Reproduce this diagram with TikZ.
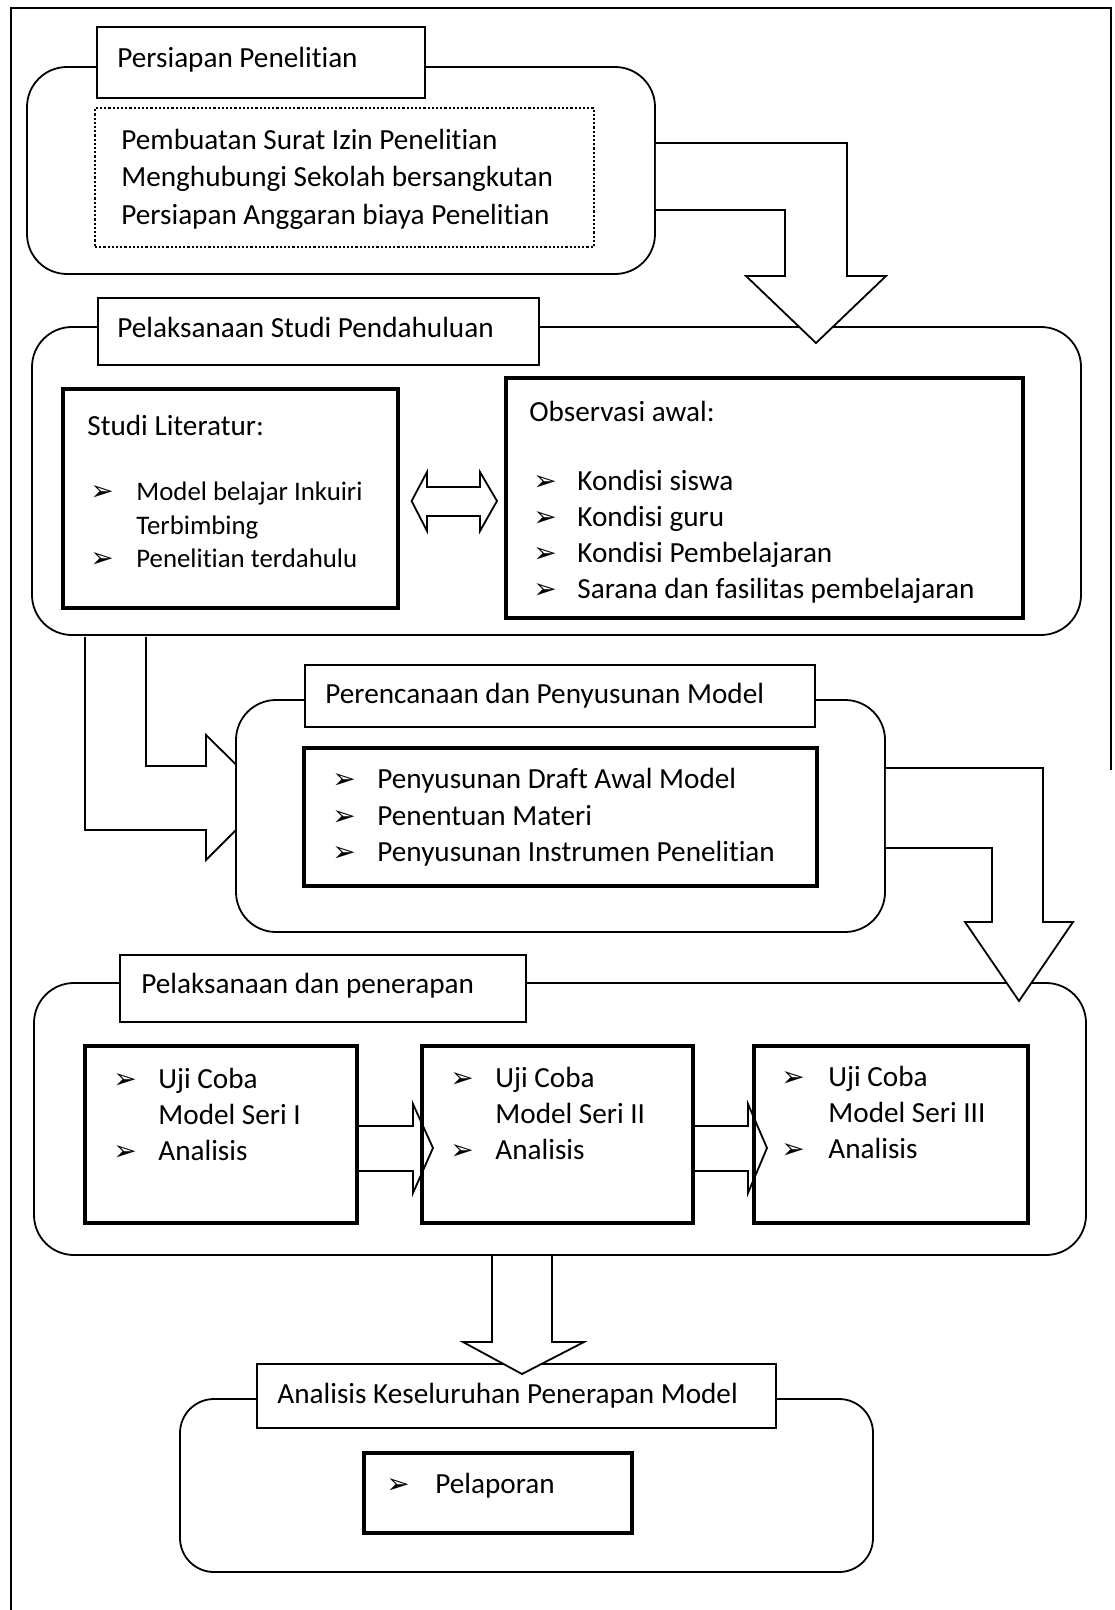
\documentclass[tikz,border=0pt]{standalone}
\usepackage{fontspec}
\setmainfont{Carlito}[Ligatures=NoCommon]
\newfontfamily\dejavu{DejaVu Sans}
\usetikzlibrary{fit}
\begin{document}
\begin{tikzpicture}[x=0.5pt,y=-0.5pt,
  frame/.style={line width=0.6pt},
  sect/.style={draw, line width=0.9pt, rounded corners=20pt, fill=white, inner sep=0pt},
  ttl/.style={draw, line width=0.9pt, fill=white, inner sep=0pt},
  dotbox/.style={draw, line width=1.1pt, densely dotted, inner sep=0pt},
  medbox/.style={draw, line width=1.6pt, inner sep=0pt},
  thickbox/.style={draw, line width=2.2pt, inner sep=0pt},
  blk/.style={draw, line width=0.9pt, fill=white, line join=miter},
  blkopen/.style={draw, line width=0.9pt, line join=miter},
  txt/.style={anchor=base west, inner sep=0pt, font=\fontsize{14.6}{17}\selectfont},
  stxt/.style={anchor=base west, inner sep=0pt, font=\fontsize{13.4}{16}\selectfont},
  bul/.style={anchor=base west, inner sep=0pt, font=\dejavu\fontsize{14}{16}\selectfont},
]
\useasboundingbox (0,0) rectangle (1114,1610);

% outer frame
\coordinate (fbl) at (11,1610);
\coordinate (ftl) at (11,8);
\coordinate (ftr) at (1111,8);
\coordinate (fbr) at (1111,770);
\draw[frame] (fbl) -- (ftl) -- (ftr) -- (fbr);

% ---------- Section 1 ----------
\node[sect, fit={(27,67)(655,274)}] (s1) {};
\node[ttl, fit={(97,27)(425,98)}] (t1) {};
\node[dotbox, fit={(95,108)(594,247)}] (b1) {};
\node[txt] (t1x) at (117,68) {Persiapan Penelitian};
\node[txt] (l11) at (121,150) {Pembuatan Surat Izin Penelitian};
\node[txt] (l12) at (121,187) {Menghubungi Sekolah bersangkutan};
\node[txt] (l13) at (121,225) {Persiapan Anggaran biaya Penelitian};

% ---------- Section 2 ----------
\node[sect, fit={(32,327)(1081,635)}] (s2) {};
\node[ttl, fit={(98,298)(539,365)}] (t2) {};
\node[medbox, fit={(63,389)(398,608)}] (b2a) {};
\node[thickbox, fit={(506,378)(1023,618)}] (b2b) {};
\node[txt] (t2x) at (117,338) {Pelaksanaan Studi Pendahuluan};
\node[txt] (l21) at (87,435) {Studi Literatur:};
\node[bul] (u21) at (90,500) {➢};
\node[stxt] (l22) at (136,500) {Model belajar Inkuiri};
\node[stxt] (l23) at (136,534) {Terbimbing};
\node[bul] (u23) at (90,567) {➢};
\node[stxt] (l24) at (136,567) {Penelitian terdahulu};
\node[txt] (l25) at (529,421) {Observasi awal:};
\node[bul] (u26) at (533,490) {➢};
\node[txt] (l26) at (577,490) {Kondisi siswa};
\node[bul] (u27) at (533,526) {➢};
\node[txt] (l27) at (577,526) {Kondisi guru};
\node[bul] (u28) at (533,562) {➢};
\node[txt] (l28) at (577,562) {Kondisi Pembelajaran};
\node[bul] (u29) at (533,598) {➢};
\node[txt] (l29) at (577,598) {Sarana dan fasilitas pembelajaran};

% double arrow between the two boxes
\draw[blk] (b2a.east |- 0,501) ++(12,0) coordinate (da1)
  -- (427,472) -- (427,487) -- (480,487) -- (480,472) -- (497,501) coordinate (da2)
  -- (480,531) -- (480,516) -- (427,516) -- (427,531) -- cycle;

% arrow 1: section 1 -> section 2 (on top)
\coordinate (a1s) at (s1.east |- 0,143);
\coordinate (a1e) at (816,343);
\draw[blk] (a1s) -- (847,143) -- (847,276) -- (886,276) -- (a1e)
  -- (746,276) -- (785,276) -- (785,210) -- (s1.east |- 0,210);

% arrow 2: section 2 -> section 3 (under section 3)
\coordinate (a2s) at (85,637);
\coordinate (a2e) at (269,797);
\draw[blk] (a2s) -- (85,830) -- (206,830) -- (206,860) -- (a2e)
  -- (206,735) -- (206,766) -- (146,766) -- (146,637);

% ---------- Section 3 ----------
\node[sect, fit={(236,700)(885,932)}] (s3) {};
\node[ttl, fit={(305,665)(815,727)}] (t3) {};
\node[thickbox, fit={(304,748)(817,886)}] (b3) {};
\node[txt] (t3x) at (325,703) {Perencanaan dan Penyusunan Model};
\node[bul] (u31) at (332,788) {➢};
\node[txt] (l31) at (377,788) {Penyusunan Draft Awal Model};
\node[bul] (u32) at (332,825) {➢};
\node[txt] (l32) at (377,825) {Penentuan Materi};
\node[bul] (u33) at (332,861) {➢};
\node[txt] (l33) at (377,861) {Penyusunan Instrumen Penelitian};

% ---------- Section 4 ----------
\node[sect, fit={(34,983)(1086,1255)}] (s4) {};
\node[ttl, fit={(120,955)(526,1022)}] (t4) {};
\node[medbox, fit={(85,1046)(357,1223)}] (b4a) {};
\node[medbox, fit={(422,1046)(693,1223)}] (b4b) {};
\node[medbox, fit={(754,1046)(1028,1223)}] (b4c) {};
\node[txt] (t4x) at (141,993) {Pelaksanaan dan penerapan};
\node[bul] (u41) at (113,1088) {➢};
\node[txt] (l41) at (158,1088) {Uji Coba};
\node[txt] (l42) at (158,1124) {Model Seri I};
\node[bul] (u43) at (113,1160) {➢};
\node[txt] (l43) at (158,1160) {Analisis};
\node[bul] (u44) at (450,1087) {➢};
\node[txt] (l44) at (495,1087) {Uji Coba};
\node[txt] (l45) at (495,1123) {Model Seri II};
\node[bul] (u46) at (450,1159) {➢};
\node[txt] (l46) at (495,1159) {Analisis};
\node[bul] (u47) at (781,1086) {➢};
\node[txt] (l47) at (828,1086) {Uji Coba};
\node[txt] (l48) at (828,1122) {Model Seri III};
\node[bul] (u49) at (781,1158) {➢};
\node[txt] (l49) at (828,1158) {Analisis};

% small arrows between trial boxes
\draw[blkopen] (b4a.east |- 0,1126) -- (413,1126) -- (413,1104) -- (433,1148) coordinate (ab1)
  -- (413,1193) -- (413,1171) -- (b4a.east |- 0,1171);
\draw[blkopen] (b4b.east |- 0,1126) -- (748,1126) -- (748,1104) -- (767,1148) coordinate (ab2)
  -- (748,1193) -- (748,1171) -- (b4b.east |- 0,1171);

% arrow 3: section 3 -> section 4 (on top)
\coordinate (a3s) at (s3.east |- 0,768);
\coordinate (a3e) at (1019,1001);
\draw[blk] (a3s) -- (1043,768) -- (1043,922) -- (1073,922) -- (a3e)
  -- (965,922) -- (992,922) -- (992,848) -- (s3.east |- 0,848);

% ---------- Section 5 ----------
\node[sect, rounded corners=17pt, fit={(180,1399)(873,1572)}] (s5) {};
\node[ttl, fit={(257,1364)(776,1428)}] (t5) {};
\node[medbox, fit={(364,1453)(632,1533)}] (b5) {};
\node[txt] (t5x) at (277,1403) {Analisis Keseluruhan Penerapan Model};
\node[bul] (u51) at (386,1493) {➢};
\node[txt] (l51) at (435,1493) {Pelaporan};

% arrow 4: section 4 -> section 5 (on top)
\coordinate (a4s) at (492,1256);
\coordinate (a4e) at (522,1374);
\draw[blk] (a4s) -- (492,1342) -- (463,1342) -- (a4e)
  -- (584,1342) -- (552,1342) -- (552,1256);
\end{tikzpicture}
\end{document}
